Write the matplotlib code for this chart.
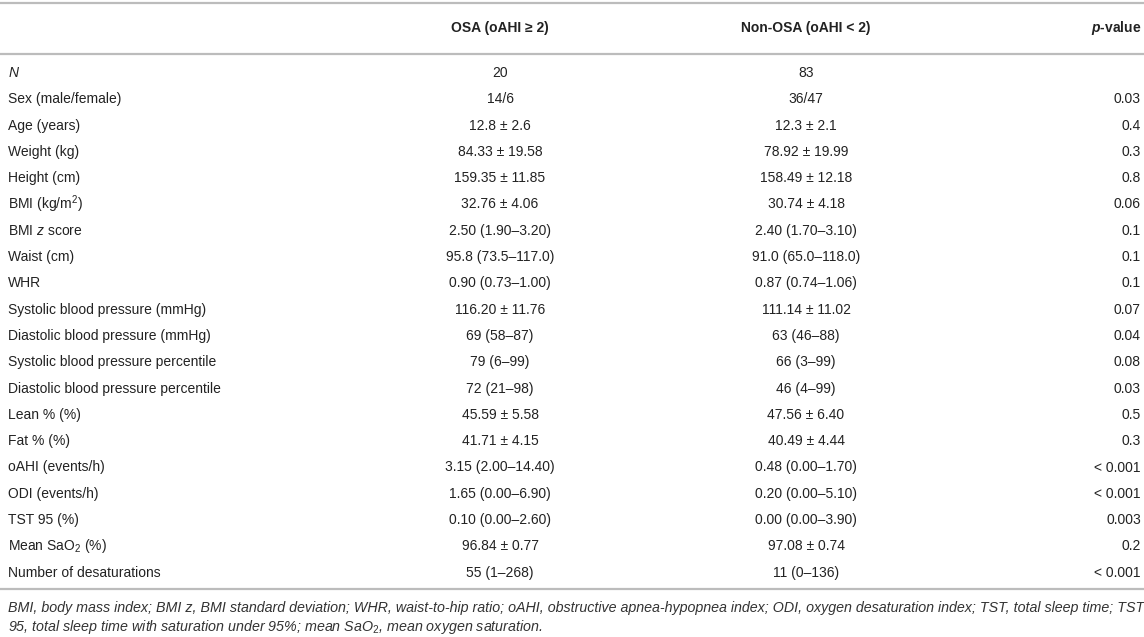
import matplotlib.pyplot as plt

plt.rcParams['font.family'] = ['Liberation Sans', 'DejaVu Sans']
plt.rcParams['mathtext.fontset'] = 'custom'
plt.rcParams['mathtext.rm'] = 'Liberation Sans'
plt.rcParams['mathtext.it'] = 'Liberation Sans:italic'
plt.rcParams['mathtext.bf'] = 'Liberation Sans:bold'
plt.rcParams['mathtext.bfit'] = 'Liberation Sans:italic:bold'

headers = ["", "OSA (oAHI ≥ 2)", "Non-OSA (oAHI < 2)", r"$\mathbfit{p}$-value"]

labels = [
    r"$\mathit{N}$",
    "Sex (male/female)",
    "Age (years)",
    "Weight (kg)",
    "Height (cm)",
    r"BMI (kg/m$^{2}$)",
    r"BMI $\mathit{z}$ score",
    "Waist (cm)",
    "WHR",
    "Systolic blood pressure (mmHg)",
    "Diastolic blood pressure (mmHg)",
    "Systolic blood pressure percentile",
    "Diastolic blood pressure percentile",
    "Lean % (%)",
    "Fat % (%)",
    "oAHI (events/h)",
    "ODI (events/h)",
    "TST 95 (%)",
    r"Mean SaO$_{2}$ (%)",
    "Number of desaturations",
]

osa = [
    "20", "14/6", "12.8 ± 2.6", "84.33 ± 19.58", "159.35 ± 11.85",
    "32.76 ± 4.06", "2.50 (1.90–3.20)", "95.8 (73.5–117.0)", "0.90 (0.73–1.00)",
    "116.20 ± 11.76", "69 (58–87)", "79 (6–99)", "72 (21–98)",
    "45.59 ± 5.58", "41.71 ± 4.15", "3.15 (2.00–14.40)", "1.65 (0.00–6.90)",
    "0.10 (0.00–2.60)", "96.84 ± 0.77", "55 (1–268)",
]

non_osa = [
    "83", "36/47", "12.3 ± 2.1", "78.92 ± 19.99", "158.49 ± 12.18",
    "30.74 ± 4.18", "2.40 (1.70–3.10)", "91.0 (65.0–118.0)", "0.87 (0.74–1.06)",
    "111.14 ± 11.02", "63 (46–88)", "66 (3–99)", "46 (4–99)",
    "47.56 ± 6.40", "40.49 ± 4.44", "0.48 (0.00–1.70)", "0.20 (0.00–5.10)",
    "0.00 (0.00–3.90)", "97.08 ± 0.74", "11 (0–136)",
]

pvals = [
    "", "0.03", "0.4", "0.3", "0.8", "0.06", "0.1", "0.1", "0.1", "0.07",
    "0.04", "0.08", "0.03", "0.5", "0.3", "< 0.001", "< 0.001", "0.003",
    "0.2", "< 0.001",
]

footnote = [
    r"BMI, body mass index; BMI z, BMI standard deviation; WHR, waist-to-hip ratio; "
    r"oAHI, obstructive apnea-hypopnea index; ODI, oxygen desaturation index; "
    r"TST, total sleep time; TST",
    r"95, total sleep time with saturation under 95%; mean SaO$_{2}$, mean oxygen saturation.",
]

W, H = 1144, 637
fig = plt.figure(figsize=(W / 100, H / 100), dpi=100)
ax = fig.add_axes([0, 0, 1, 1])
ax.set_xlim(0, W)
ax.set_ylim(H, 0)
ax.axis('off')

txt = '#222222'
line_c = '#bcbcbc'
fs = 10

x_label = 8
x_osa = 500
x_non = 806
x_p = 1141

# header
y_head = 28
ax.text(x_osa, y_head, headers[1], ha='center', va='center', fontsize=fs,
        fontweight='bold', color=txt)
ax.text(x_non, y_head, headers[2], ha='center', va='center', fontsize=fs,
        fontweight='bold', color=txt)
ax.text(x_p, y_head, headers[3], ha='right', va='center', fontsize=fs,
        fontweight='bold', color=txt)

ax.axhline(3, color=line_c, lw=1.6)
ax.axhline(54, color=line_c, lw=1.6)
ax.axhline(589, color=line_c, lw=1.6)

y0, dy = 73, 26.3
for i in range(len(labels)):
    y = y0 + i * dy
    ax.text(x_label, y, labels[i], ha='left', va='center', fontsize=fs, color=txt)
    ax.text(x_osa, y, osa[i], ha='center', va='center', fontsize=fs, color=txt)
    ax.text(x_non, y, non_osa[i], ha='center', va='center', fontsize=fs, color=txt)
    ax.text(x_p, y, pvals[i], ha='right', va='center', fontsize=fs, color=txt)

for j, line in enumerate(footnote):
    ax.text(x_label, 608 + j * 19.5, line, ha='left', va='center', fontsize=10.28,
            style='italic', color='#333333')

fig.savefig('out.png', dpi=100)
